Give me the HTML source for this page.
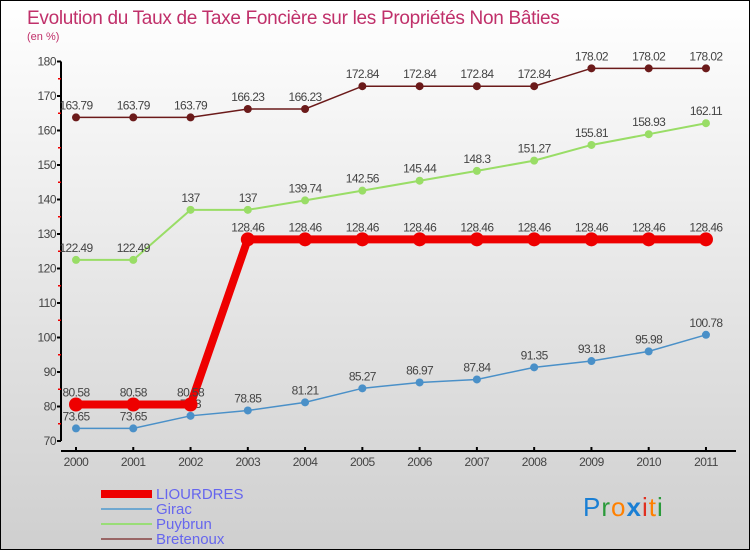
<!DOCTYPE html>
<html><head><meta charset="utf-8"><style>
body{margin:0}
#c{position:relative;width:748px;height:548px;border:1px solid #000;background:linear-gradient(#ffffff,#cfcfcf);font-family:"Liberation Sans",sans-serif;overflow:hidden}
</style></head><body>
<div id="c">
<svg id="s" width="748" height="548" xmlns="http://www.w3.org/2000/svg" style="position:absolute;left:0;top:0">
<text x="26" y="23" font-size="19" fill="#c0306a" letter-spacing="-0.3">Evolution du Taux de Taxe Foncière sur les Propriétés Non Bâties</text>
<text x="26" y="39" font-size="11" fill="#c0306a">(en %)</text>
<text x="155" y="498" font-size="15" fill="#6666ee">LIOURDRES</text>
<text x="155" y="513" font-size="15" fill="#6666ee">Girac</text>
<text x="155" y="528" font-size="15" fill="#6666ee">Puybrun</text>
<text x="155" y="543" font-size="15" fill="#6666ee">Bretenoux</text>
<rect x="100" y="489" width="51" height="8" fill="#ee0000"/>
<line x1="100" y1="508" x2="151" y2="508" stroke="#6fa8d0" stroke-width="2"/>
<line x1="100" y1="523" x2="151" y2="523" stroke="#99dd77" stroke-width="2"/>
<line x1="100" y1="538" x2="151" y2="538" stroke="#996666" stroke-width="2"/>
<text x="582" y="515" font-size="26" letter-spacing="1"><tspan fill="#1a7fd4">P</tspan><tspan fill="#2a9a3a">r</tspan><tspan fill="#ff8000">o</tspan><tspan fill="#1a7fd4" font-weight="bold">x</tspan><tspan fill="#e03020">i</tspan><tspan fill="#ff8000">t</tspan><tspan fill="#2a9a3a">i</tspan></text>
</svg>
</div>
<script>
const years=["2000","2001","2002","2003","2004","2005","2006","2007","2008","2009","2010","2011"];
const liourdres=[80.58,80.58,80.58,128.46,128.46,128.46,128.46,128.46,128.46,128.46,128.46,128.46];
const girac=[73.65,73.65,77.3,78.85,81.21,85.27,86.97,87.84,91.35,93.18,95.98,100.78];
const puybrun=[122.49,122.49,137,137,139.74,142.56,145.44,148.3,151.27,155.81,158.93,162.11];
const bretenoux=[163.79,163.79,163.79,166.23,166.23,172.84,172.84,172.84,172.84,178.02,178.02,178.02];
const yTicks=[70,80,90,100,110,120,130,140,150,160,170,180];
const NS="http://www.w3.org/2000/svg";
const s=document.getElementById('s');
const X=i=>75+i*57.27;
const Y=v=>440-(v-70)*3.45;
function el(t,a,name){const e=document.createElementNS(NS,t);for(const k in a)e.setAttribute(k,a[k]);


s.appendChild(e);return e;}
el('line',{x1:60,y1:Y(180),x2:60,y2:Y(70),stroke:'#000','stroke-width':2},'y-axis');
el('line',{x1:60,y1:450,x2:735,y2:450,stroke:'#000','stroke-width':2},'x-axis');
yTicks.forEach(v=>{el('line',{x1:56,y1:Y(v),x2:60,y2:Y(v),stroke:'#000','stroke-width':2},'y-tick');
if(v<180)el('line',{x1:57,y1:Y(v+5),x2:60,y2:Y(v+5),stroke:'#e00','stroke-width':1.5},'y-minor-tick');
const t=el('text',{x:55,y:Y(v)+4,'text-anchor':'end','font-size':12,fill:'#444','letter-spacing':'-0.5'},'y-tick-label');t.textContent=v;});
years.forEach((y,i)=>{el('line',{x1:X(i),y1:446,x2:X(i),y2:450,stroke:'#000','stroke-width':2},'x-tick');
const t=el('text',{x:X(i),y:465,'text-anchor':'middle','font-size':12,fill:'#444','letter-spacing':'-0.5'},'x-tick-label');t.textContent=y;});
function series(d,color,w,r,name){
el('polyline',{points:d.map((v,i)=>X(i)+','+Y(v)).join(' '),fill:'none',stroke:color,'stroke-width':w},name+'-line');
d.forEach((v,i)=>{el('circle',{cx:X(i),cy:Y(v),r:r,fill:color},name+'-point');
const t=el('text',{x:X(i),y:Y(v)-8,'text-anchor':'middle','font-size':12,fill:'#444','letter-spacing':'-0.6'},name+'-value-label');t.textContent=v;});}
series(bretenoux,'#6b1a1a',1.5,4,'bretenoux');
series(puybrun,'#99dd66',2,4,'puybrun');
series(girac,'#4a90c8',1.5,4,'girac');
series(liourdres,'#ee0000',8,7,'liourdres');
</script>
</body></html>
